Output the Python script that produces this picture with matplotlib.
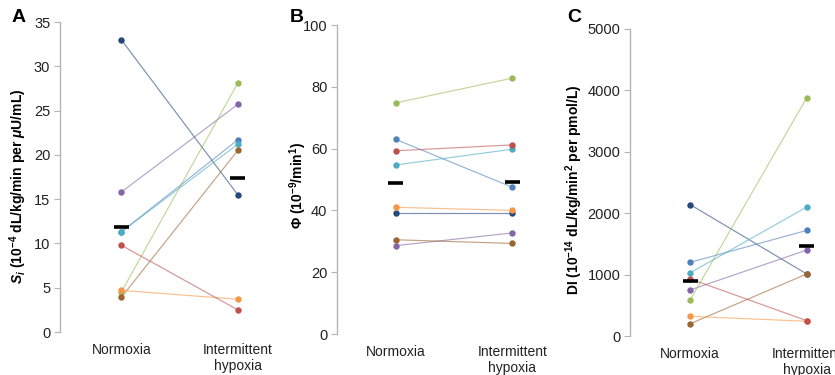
import matplotlib
matplotlib.use("Agg")
import matplotlib.pyplot as plt

plt.rcParams['font.family'] = ['Liberation Sans', 'DejaVu Sans']
plt.rcParams['mathtext.fontset'] = 'custom'
plt.rcParams['mathtext.rm'] = 'Liberation Sans:bold'
plt.rcParams['mathtext.it'] = 'Liberation Sans:italic:bold'
plt.rcParams['mathtext.bf'] = 'Liberation Sans:bold'
plt.rcParams['mathtext.sf'] = 'Liberation Sans:bold'

categories = ["Normoxia", "Intermittent\nhypoxia"]
subjects = ["navy", "purple", "blue", "cyan", "green", "brown", "orange", "red"]
colors = {"navy": "#24487a", "purple": "#8466a8", "blue": "#4f81bd", "cyan": "#4bacc6",
          "green": "#9bbb59", "brown": "#9a6530", "orange": "#f79646", "red": "#c0504d"}

si_normoxia = [33.0, 15.8, 11.3, 11.3, 4.5, 3.9, 4.7, 9.8]
si_hypoxia = [15.5, 25.7, 21.7, 21.2, 28.1, 20.5, 3.7, 2.5]
si_means = [11.8, 17.4]

phi_normoxia = [39.0, 28.6, 63.0, 54.7, 74.8, 30.5, 41.0, 59.3]
phi_hypoxia = [39.0, 32.7, 47.5, 59.8, 82.8, 29.3, 40.0, 61.2]
phi_means = [48.9, 49.1]

di_normoxia = [2140, 750, 1200, 1030, 590, 200, 320, 930]
di_hypoxia = [1010, 1400, 1720, 2100, 3880, 1010, 240, 250]
di_means = [900, 1460]

W, H = 835, 375
fig = plt.figure(figsize=(W / 100, H / 100), dpi=100)

panels = [
    dict(letter="A", norm=si_normoxia, hyp=si_hypoxia, means=si_means, ymax=35, step=5,
         spine=60, top=22, bottom=332, xmin=-0.526,
         ylabel=r"$\mathit{S_i}$" + " (10$^{-4}$ dL/kg/min per " + r"$\mathit{\mu}$" + "U/mL)",
         lx=18, ly=186, letx=12),
    dict(letter="B", norm=phi_normoxia, hyp=phi_hypoxia, means=phi_means, ymax=100, step=20,
         spine=337, top=25, bottom=334, xmin=-0.504,
         ylabel=r"$\mathit{Φ}$" + " (10$^{-9}$/min$^{1}$)",
         lx=298, ly=185, letx=290),
    dict(letter="C", norm=di_normoxia, hyp=di_hypoxia, means=di_means, ymax=5000, step=1000,
         spine=630, top=29, bottom=336, xmin=-0.517,
         ylabel="DI (10$^{-14}$ dL/kg/min$^{2}$ per pmol/L)",
         lx=574, ly=190, letx=567),
]

ppu = 116.5
xmax = 1.45
for p in panels:
    width_px = (xmax - p["xmin"]) * ppu
    ax = fig.add_axes([p["spine"] / W, 1 - p["bottom"] / H, width_px / W,
                       (p["bottom"] - p["top"]) / H])
    for i, s in enumerate(subjects):
        c = colors[s]
        ax.plot([0, 1], [p["norm"][i], p["hyp"][i]], color=c, lw=0.85, alpha=0.6, zorder=2)
        ax.plot([0, 1], [p["norm"][i], p["hyp"][i]], ls="none", marker="o", ms=4.6,
                color=c, mec="none", zorder=3)
    for j, m in enumerate(p["means"]):
        ax.plot([j - 0.065, j + 0.065], [m, m], color="black", lw=2.6,
                solid_capstyle="butt", zorder=4)
    ax.set_xlim(p["xmin"], xmax)
    ax.set_ylim(0, p["ymax"])
    ax.set_yticks(range(0, p["ymax"] + 1, p["step"]))
    ax.set_xticks([0, 1])
    ax.set_xticklabels(categories, fontsize=10, color="#222222")
    ax.tick_params(axis="x", length=0, pad=8)
    ax.tick_params(axis="y", length=4, color="#b5b5b5", labelsize=10.5,
                   labelcolor="#222222", pad=3)
    for side in ["top", "right", "bottom"]:
        ax.spines[side].set_visible(False)
    ax.spines["left"].set_color("#b5b5b5")
    ax.spines["left"].set_linewidth(1.0)
    ax.patch.set_alpha(0)
    fig.text(p["lx"] / W, 1 - p["ly"] / H, p["ylabel"],
             rotation=90, ha="center", va="center", fontsize=10, fontweight="bold")
    fig.text(p["letx"] / W, 1 - 18 / H, p["letter"], ha="left", va="center",
             fontsize=14, fontweight="bold")

fig.savefig("out.png", dpi=100)
